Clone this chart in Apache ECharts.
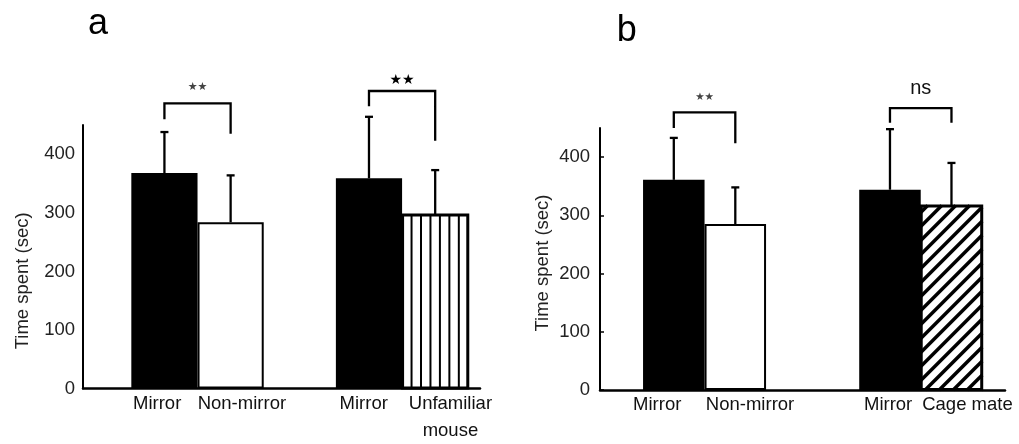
<!DOCTYPE html>
<html><head><meta charset="utf-8">
<script src="https://cdn.jsdelivr.net/npm/echarts@6/dist/echarts.min.js"></script>
<style>html,body{margin:0;padding:0;background:#fff}#c{width:1019px;height:444px}</style>
</head><body><div id="c"></div>
<script>
// ---------- data ----------
const panelLetters = ['a', 'b'];
const categoriesA = ['Mirror', 'Non-mirror', 'Mirror', 'Unfamiliar\nmouse'];
const meansA = [368, 284, 359, 297];
const errorsA = [70, 80, 105, 76];
const categoriesB = ['Mirror', 'Non-mirror', 'Mirror', 'Cage mate'];
const meansB = [361, 285, 344, 317];
const errorsB = [72, 63, 104, 73];
const yTicks = [0, 100, 200, 300, 400];
const yAxisTitle = 'Time spent (sec)';
// significance brackets: [left bar, right bar, bracket top, left leg end, right leg end, label]
const bracketsA = [[0, 1, 487, 460, 435, '★★'], [2, 3, 508, 482, 423, '★★']];
const bracketsB = [[0, 1, 477, 450, 424, '★★'], [2, 3, 484, 459, 459, 'ns']];

// ---------- layout / style ----------
const FONT = "'Liberation Sans', Arial, sans-serif";
const Y_MAX = 450;
const panels = [
  { letter: panelLetters[0], cats: categoriesA, means: meansA, errs: errorsA, brackets: bracketsA,
    left: 83, top: 125, width: 397, bottom: 390, barPx: 66.2, lead: 1.23, gap: 1.09,
    fills: ['solid', 'open', 'solid', 'vstripe'], labelShift: [-0.11, 0.17, -0.08, 0.23],
    nameGap: 51, namePad: [0, 48, 0, 0], labelMargin: 8, labelPad: [0, 0, 8, 0], ticks: false,
    letterPos: [98, 24],
    bracketText: [{ size: 11, color: '#444', gap: 16.6, font: "'DejaVu Sans'" },
                  { size: 14, color: '#000', gap: 11, font: "'DejaVu Sans'" }] },
  { letter: panelLetters[1], cats: categoriesB, means: meansB, errs: errorsB, brackets: bracketsB,
    left: 600, top: 128, width: 405, bottom: 390, barPx: 61.5, lead: 1.2, gap: 1.515,
    fills: ['solid', 'open', 'solid', 'hatch'], labelShift: [-0.27, 0.24, -0.03, 0.26],
    nameGap: 48, namePad: [0, 8, 0, 0], labelMargin: 10, labelPad: 0, ticks: true,
    letterPos: [626.7, 31],
    bracketText: [{ size: 10.5, color: '#444', gap: 15, font: "'DejaVu Sans'" },
                  { size: 20, color: '#111', gap: 20, font: FONT }] }
];

function barPos(P, k) { return P.lead + k + Math.floor(k / 2) * P.gap; }

const grid = [], xAxis = [], yAxis = [], series = [], graphic = [];
panels.forEach((P, i) => {
  const xMax = P.width / P.barPx;
  const pos = P.cats.map((c, k) => barPos(P, k));
  const labelPos = pos.map((p, k) => +(p + P.labelShift[k]).toFixed(4));
  grid.push({ left: P.left, top: P.top, width: P.width, height: P.bottom - P.top });
  xAxis.push({
    type: 'value', gridIndex: i, min: 0, max: xMax,
    axisLine: { show: true, onZero: false, lineStyle: { color: '#000', width: 2.5 } },
    axisTick: { show: false }, splitLine: { show: false },
    axisLabel: {
      customValues: labelPos,
      formatter: (v) => { const k = labelPos.findIndex(q => Math.abs(q - v) < 1e-3); return k < 0 ? '' : P.cats[k]; },
      color: '#111', fontSize: 18.5, lineHeight: 26.7, margin: 2, fontFamily: FONT
    }
  });
  yAxis.push({
    type: 'value', gridIndex: i, min: 0, max: Y_MAX,
    axisLine: { show: true, lineStyle: { color: '#000', width: 2 } },
    axisTick: { show: P.ticks, inside: true, length: 4, customValues: yTicks, lineStyle: { color: '#000', width: 1.5 } },
    axisLabel: { customValues: yTicks, color: '#222', fontSize: 18.5, margin: P.labelMargin, fontFamily: FONT, padding: P.labelPad },
    splitLine: { show: false },
    name: yAxisTitle, nameLocation: 'middle', nameGap: P.nameGap, nameRotate: 90,
    nameTextStyle: { color: '#222', fontSize: 18.5, fontFamily: FONT, padding: P.namePad }
  });
  // bars
  series.push({
    type: 'bar', xAxisIndex: i, yAxisIndex: i, barWidth: P.barPx, silent: true, z: 2,
    data: P.means.map((m, k) => ({ value: [pos[k], m],
      itemStyle: { color: P.fills[k] === 'solid' ? '#000' : '#fff', borderColor: '#000', borderWidth: 2 } }))
  });
  // patterns
  series.push({
    type: 'custom', xAxisIndex: i, yAxisIndex: i, silent: true, z: 3,
    data: P.means.map((m, k) => [pos[k], m, k]).filter(d => P.fills[d[2]] === 'vstripe' || P.fills[d[2]] === 'hatch'),
    encode: { x: 0, y: 1 },
    renderItem: (params, api) => {
      const x = api.value(0), m = api.value(1), k = api.value(2);
      const a = api.coord([x - 0.5, m]), b = api.coord([x + 0.5, 0]);
      const x0 = a[0], y0 = a[1], x1 = b[0], y1 = b[1];
      const kids = [];
      if (P.fills[k] === 'vstripe') {
        const n = 7;
        for (let j = 1; j < n; j++) {
          const xx = x0 + (x1 - x0) * j / n;
          kids.push({ type: 'line', shape: { x1: xx, y1: y0, x2: xx, y2: y1 }, style: { stroke: '#000', lineWidth: 2 } });
        }
      } else {
        const period = 14;
        for (let c = x0 + y0 + period / 2; c < x1 + y1; c += period) {
          const xa = Math.max(x0, c - y1), xb = Math.min(x1, c - y0);
          if (xb > xa) kids.push({ type: 'line', shape: { x1: xa, y1: c - xa, x2: xb, y2: c - xb }, style: { stroke: '#000', lineWidth: 3.5 } });
        }
      }
      kids.push({ type: 'rect', shape: { x: x0, y: y0, width: x1 - x0, height: y1 - y0 }, style: { fill: 'none', stroke: '#000', lineWidth: 2 } });
      return { type: 'group', children: kids };
    }
  });
  // error bars
  series.push({
    type: 'custom', xAxisIndex: i, yAxisIndex: i, silent: true, z: 4,
    data: P.means.map((m, k) => [pos[k], m, P.errs[k]]),
    encode: { x: 0, y: 1 },
    renderItem: (params, api) => {
      const x = api.value(0), m = api.value(1), e = api.value(2);
      const lo = api.coord([x, m]), hi = api.coord([x, m + e]);
      const cap = 4;
      return { type: 'group', children: [
        { type: 'line', shape: { x1: lo[0], y1: lo[1], x2: hi[0], y2: hi[1] }, style: { stroke: '#000', lineWidth: 2.3 } },
        { type: 'line', shape: { x1: hi[0] - cap, y1: hi[1], x2: hi[0] + cap, y2: hi[1] }, style: { stroke: '#000', lineWidth: 2.3 } }
      ] };
    }
  });
  // significance brackets
  series.push({
    type: 'custom', xAxisIndex: i, yAxisIndex: i, silent: true, z: 4,
    data: P.brackets.map(b => [pos[b[0]], pos[b[1]], b[2], b[3], b[4]]),
    encode: { x: [0, 1], y: [2, 3, 4] },
    renderItem: (params, api) => {
      const xl = api.value(0), xr = api.value(1), top = api.value(2), le = api.value(3), re = api.value(4);
      const tl = api.coord([xl, top]), tr = api.coord([xr, top]);
      const bl = api.coord([xl, le]), br = api.coord([xr, re]);
      const T = P.bracketText[params.dataIndex];
      const label = P.brackets[params.dataIndex][5];
      return { type: 'group', children: [
        { type: 'polyline', shape: { points: [bl, tl, tr, br] }, style: { stroke: '#000', lineWidth: 2.3, fill: 'none' } },
        { type: 'text', x: (tl[0] + tr[0]) / 2, y: tl[1] - T.gap,
          style: { text: label, fontSize: T.size, fill: T.color, align: 'center', verticalAlign: 'middle', fontFamily: T.font } }
      ] };
    }
  });
  graphic.push({ type: 'text', x: P.letterPos[0], y: P.letterPos[1],
    style: { text: P.letter, fontSize: 36, fill: '#000', align: 'center', verticalAlign: 'middle', fontFamily: FONT } });
});

const chart = echarts.init(document.getElementById('c'), null, { renderer: 'canvas' });
chart.setOption({ animation: false, backgroundColor: '#fff', grid, xAxis, yAxis, series, graphic });
</script>
</body></html>
